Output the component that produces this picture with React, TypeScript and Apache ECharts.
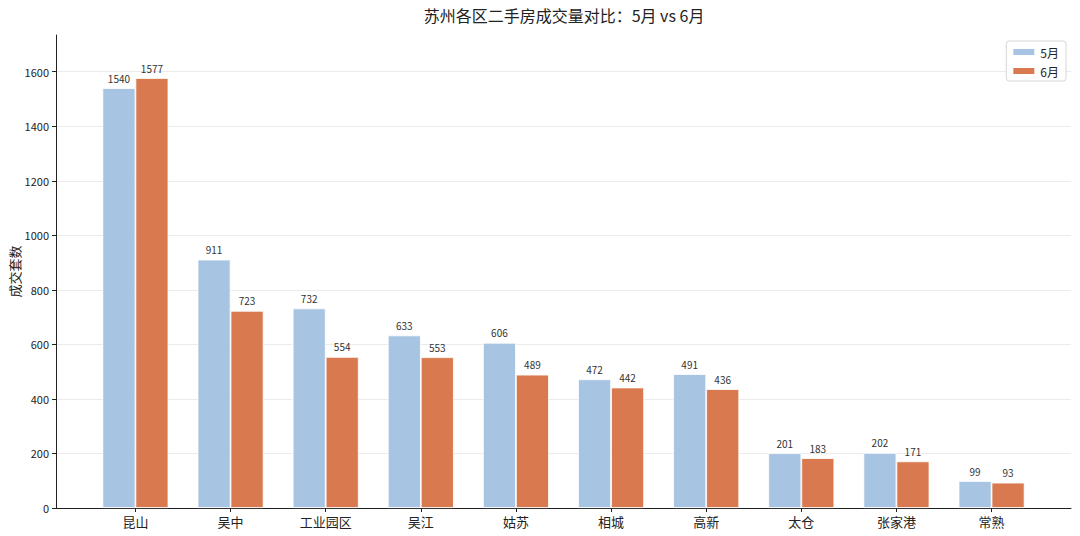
import React, { useEffect, useRef } from "react";
import * as echarts from "echarts";

const categories = ["昆山", "吴中", "工业园区", "吴江", "姑苏", "相城", "高新", "太仓", "张家港", "常熟"];
const mayValues = [1540, 911, 732, 633, 606, 472, 491, 201, 202, 99];
const juneValues = [1577, 723, 554, 553, 489, 442, 436, 183, 171, 93];
const yTicks = [0, 200, 400, 600, 800, 1000, 1200, 1400, 1600];
const seriesNames = ["5月", "6月"];
const titleText = "苏州各区二手房成交量对比：5月 vs 6月";

const FONT = "'Noto Sans CJK SC', 'Noto Sans', sans-serif";

export default function App() {
  const ref = useRef<HTMLDivElement>(null);
  useEffect(() => {
    if (!ref.current) return;
    const chart = echarts.init(ref.current, undefined, { renderer: "svg" });
    const yMax = Math.max(...mayValues, ...juneValues) * 1.1;
    const xIdx = categories.map((_, i) => i);
    const gridColors = yTicks.map(() => "#ebebeb").concat(["rgba(0,0,0,0)"]);
    const label = {
      show: true,
      position: "top",
      distance: 5,
      fontSize: 10,
      color: "#333",
      fontFamily: FONT,
    };
    chart.setOption({
      animation: false,
      backgroundColor: "#fff",
      textStyle: { fontFamily: FONT },
      graphic: [
        {
          type: "text",
          x: 564,
          y: 15,
          style: {
            text: titleText,
            fontSize: 16,
            fontFamily: FONT,
            fill: "#222",
            align: "center",
            verticalAlign: "middle",
          },
        },
      ],
      legend: {
        orient: "vertical",
        right: 14,
        top: 41,
        padding: [5, 7, 4, 5],
        itemWidth: 23,
        itemHeight: 8,
        itemGap: 7,
        borderColor: "#d6d6d6",
        borderWidth: 1,
        borderRadius: 3,
        backgroundColor: "#fff",
        icon: "rect",
        textStyle: { fontSize: 12, color: "#222", fontFamily: FONT },
        data: seriesNames,
      },
      grid: { left: 56, right: 9, top: 35, bottom: 28, containLabel: false, outerBoundsMode: "none" },
      xAxis: {
        type: "value",
        min: -0.835,
        max: categories.length - 1 + 0.835,
        axisLine: { show: true, onZero: false, lineStyle: { color: "#222", width: 1 } },
        axisTick: { show: true, length: 4, customValues: xIdx, lineStyle: { color: "#222" } },
        axisLabel: {
          customValues: xIdx,
          formatter: (v: number) => categories[Math.round(v)] ?? "",
          fontSize: 13,
          color: "#222",
          margin: 7,
          fontFamily: FONT,
        },
        splitLine: { show: false },
      },
      yAxis: {
        type: "value",
        min: 0,
        max: yMax,
        interval: 200,
        name: "成交套数",
        nameLocation: "middle",
        nameGap: 35,
        nameRotate: 90,
        nameMoveOverlap: false,
        nameTextStyle: { fontSize: 13, color: "#222", fontFamily: FONT },
        axisLine: { show: true, onZero: false, lineStyle: { color: "#222", width: 1 } },
        axisTick: { show: true, length: 4, customValues: yTicks, lineStyle: { color: "#222" } },
        axisLabel: {
          customValues: yTicks,
          formatter: (v: number) => String(v),
          fontSize: 11,
          color: "#222",
          margin: 7,
          fontFamily: FONT,
        },
        splitLine: { show: true, lineStyle: { color: gridColors, width: 1 } },
      },
      series: [
        {
          name: seriesNames[0],
          type: "bar",
          barWidth: 33,
          barGap: "0%",
          data: mayValues.map((v, i) => [i, v]),
          itemStyle: { color: "#a7c4e2", borderColor: "#ffffff", borderWidth: 0.8 },
          label: { ...label, formatter: (p: any) => String(p.value[1]) },
        },
        {
          name: seriesNames[1],
          type: "bar",
          barWidth: 33,
          barGap: "0%",
          data: juneValues.map((v, i) => [i, v]),
          itemStyle: { color: "#d9794f", borderColor: "#ffffff", borderWidth: 0.8 },
          label: { ...label, formatter: (p: any) => String(p.value[1]) },
        },
      ],
    });
    return () => chart.dispose();
  }, []);
  return (
    <div
      ref={ref}
      style={{ position: "fixed", left: 0, top: 0, width: 1080, height: 536, background: "#fff" }}
    />
  );
}
